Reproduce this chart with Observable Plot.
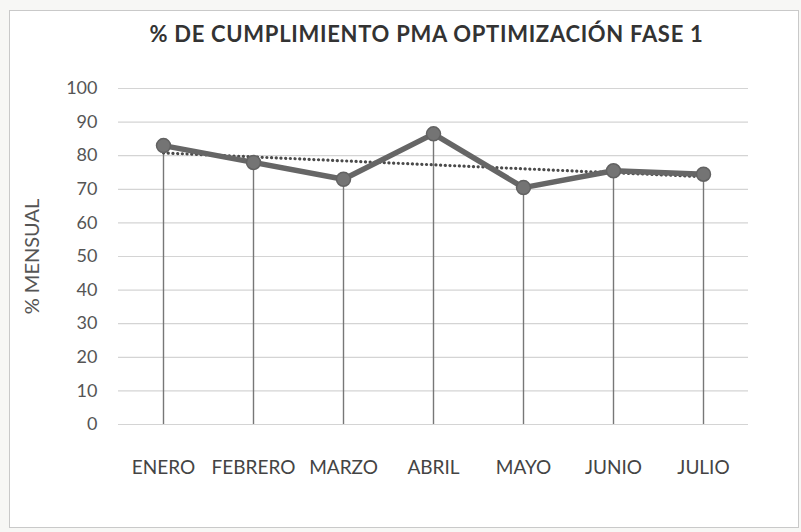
<!DOCTYPE html>
<html>
<head>
<meta charset="utf-8">
<script src="https://cdn.jsdelivr.net/npm/d3@7"></script>
<script src="https://cdn.jsdelivr.net/npm/@observablehq/plot@0.6"></script>
<style>
  html, body { margin: 0; padding: 0; background: #f7f7f5; }
  #wrap { position: relative; width: 801px; height: 532px; overflow: hidden; }
  #box { position: absolute; left: 9px; top: 10px; width: 790px; height: 518px; border: 1.5px solid #c9c9c9; background: #ffffff; box-sizing: border-box; }
  #title { position: absolute; left: 0; top: 20px; width: 801px; padding-left: 52px; box-sizing: border-box; text-align: center;
           font-family: Lato, "Open Sans", sans-serif; font-weight: bold; font-size: 22px; letter-spacing: 0.7px; color: #333; }
  #chart { position: absolute; left: 0; top: 70px; }
</style>
</head>
<body>
<div id="wrap">
  <div id="box"></div>
  <div id="title">% DE CUMPLIMIENTO PMA OPTIMIZACIÓN FASE 1</div>
  <div id="chart"></div>
</div>
<script>
const months = ["ENERO", "FEBRERO", "MARZO", "ABRIL", "MAYO", "JUNIO", "JULIO"];
const values = [83, 78, 73, 86.5, 70.5, 75.5, 74.5];
const yTicks = [0, 10, 20, 30, 40, 50, 60, 70, 80, 90, 100];
const yLabel = "% MENSUAL";

const data = months.map((m, i) => ({i, month: m, value: values[i]}));

const chart = Plot.plot({
  width: 801,
  height: 462,
  marginLeft: 118,
  marginRight: 53,
  marginTop: 18,
  marginBottom: 108,
  style: {background: "transparent", fontFamily: "Lato, 'Open Sans', sans-serif"},
  x: {domain: [-0.5, 6.5]},
  y: {domain: [0, 100]},
  marks: [
    Plot.gridY(yTicks, {stroke: "#d4d4d4", strokeOpacity: 1, strokeWidth: 1.2}),
    Plot.axisY(yTicks, {tickSize: 0, tickPadding: 21, fontSize: 18, fill: "#555", label: null}),
    Plot.axisX(months.map((m, i) => i), {tickSize: 0, tickPadding: 36, fontSize: 19, fill: "#444", tickFormat: i => months[i], label: null}),
    Plot.text([yLabel], {frameAnchor: "left", dx: -86, rotate: -90, textAnchor: "middle", fontSize: 20, fill: "#555", letterSpacing: 1}),
    Plot.ruleX(data, {x: "i", y1: 0, y2: "value", stroke: "#777", strokeWidth: 1.4}),
    Plot.linearRegressionY(data, {x: "i", y: "value", ci: 0, stroke: "#4a4a4a", strokeWidth: 3.2, strokeDasharray: "0.1 4.6", strokeLinecap: "round"}),
    Plot.line(data, {x: "i", y: "value", stroke: "#666", strokeWidth: 5.5, strokeLinejoin: "round"}),
    Plot.dot(data, {x: "i", y: "value", r: 7, fill: "#747474", stroke: "#626262", strokeWidth: 1.5})
  ]
});
document.getElementById("chart").appendChild(chart);
</script>
</body>
</html>
